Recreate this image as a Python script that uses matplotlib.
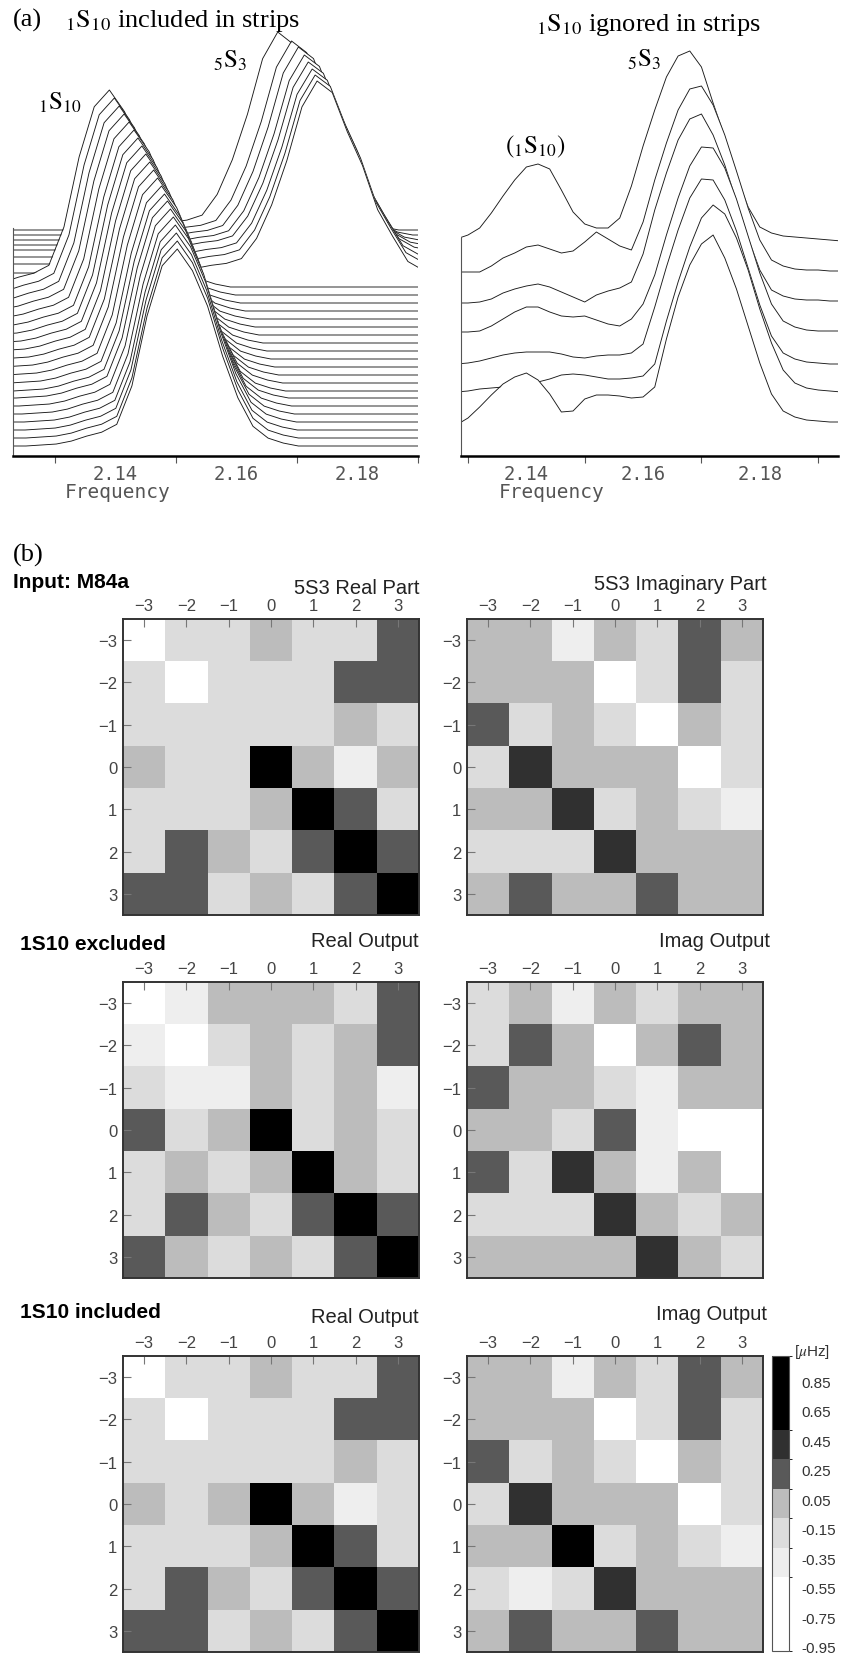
import numpy as np
import matplotlib
matplotlib.use("Agg")
import matplotlib.pyplot as plt
from matplotlib.colors import ListedColormap, BoundaryNorm

plt.rcParams["mathtext.fontset"] = "stix"
plt.rcParams["font.family"] = ["Liberation Sans", "DejaVu Sans"]

W, H = 841, 1656

# ---------------- (a) strip spectra ----------------
xtick_major = [2.14, 2.16, 2.18]
xtick_minor = [2.13, 2.15, 2.17, 2.19]

# mode line shapes: offset from peak (mHz) and normalised height
prof_df = [-0.025, -0.0225, -0.02, -0.0175, -0.015, -0.0125, -0.01, -0.0075, -0.005, -0.0025,
           0.0, 0.0025, 0.005, 0.0075, 0.01, 0.0125, 0.015, 0.0175, 0.02, 0.025]
prof_1s10 = [0, 0.005, 0.01, 0.025, 0.05, 0.07, 0.11, 0.305, 0.66, 0.915,
             1.0, 0.89, 0.71, 0.455, 0.245, 0.10, 0.04, 0.015, 0, 0]
prof_5s3 = [0, 0.015, 0.025, 0.04, 0.05, 0.075, 0.18, 0.355, 0.585, 0.865,
            1.0, 0.94, 0.735, 0.56, 0.33, 0.19, 0.06, 0.015, 0, 0]

# left panel (1S10 included): 1S10 strips, front strip first
inc_1s10_peak = [2.15024, 2.15024, 2.15008, 2.14992, 2.14959, 2.14911, 2.14862, 2.14813,
                 2.14764, 2.14699, 2.14634, 2.14569, 2.14504, 2.14439, 2.14374, 2.14309,
                 2.14228, 2.14146, 2.14065, 2.13984, 2.13902]
inc_1s10_base = [0.10, 0.18, 0.26, 0.34, 0.42, 0.50, 0.58, 0.65, 0.73, 0.81, 0.89,
                 0.97, 1.05, 1.13, 1.21, 1.29, 1.37, 1.45, 1.53, 1.61, 1.69]
inc_1s10_height = 1.97
# 5S3 strips, back strip first
inc_5s3_peak = [2.16683, 2.16911, 2.17024, 2.17122, 2.17187, 2.17252, 2.17301, 2.17333]
inc_5s3_base = [2.26, 2.21, 2.16, 2.11, 2.06, 1.99, 1.92, 1.83]
inc_5s3_height = [1.98, 1.94, 1.93, 1.90, 1.88, 1.88, 1.89, 1.92]

# right panel (1S10 ignored), front strip first
ign_freq = [2.128, 2.130, 2.132, 2.134, 2.136, 2.138, 2.140, 2.142, 2.144, 2.146, 2.148, 2.150,
            2.152, 2.154, 2.156, 2.158, 2.160, 2.162, 2.164, 2.166, 2.168, 2.170, 2.172, 2.174,
            2.176, 2.178, 2.180, 2.182, 2.184, 2.186, 2.188, 2.190, 2.192, 2.194]
ign_strips = [
    [0.31, 0.38, 0.49, 0.61, 0.72, 0.79, 0.83, 0.76, 0.62, 0.44, 0.45, 0.57, 0.61, 0.61, 0.60, 0.58, 0.59,
     0.69, 1.17, 1.59, 1.91, 2.12, 2.21, 1.98, 1.67, 1.30, 0.93, 0.62, 0.45, 0.39, 0.36, 0.35, 0.34, 0.34],
    [0.64, 0.65, 0.67, 0.68, 0.69, 0.71, 0.73, 0.74, 0.77, 0.81, 0.82, 0.81, 0.79, 0.77, 0.77, 0.78, 0.80,
     0.92, 1.35, 1.74, 2.09, 2.38, 2.51, 2.42, 2.18, 1.86, 1.47, 1.13, 0.86, 0.73, 0.68, 0.66, 0.65, 0.64],
    [0.92, 0.93, 0.95, 0.98, 1.01, 1.03, 1.04, 1.04, 1.04, 1.02, 0.99, 0.98, 1.00, 1.01, 1.01, 1.03, 1.12,
     1.49, 1.89, 2.26, 2.58, 2.77, 2.76, 2.56, 2.25, 1.88, 1.51, 1.20, 1.03, 0.97, 0.94, 0.93, 0.92, 0.92],
    [1.24, 1.24, 1.25, 1.30, 1.37, 1.44, 1.49, 1.49, 1.44, 1.40, 1.39, 1.40, 1.36, 1.32, 1.30, 1.37, 1.52,
     1.81, 2.21, 2.58, 2.90, 3.09, 3.08, 2.88, 2.57, 2.20, 1.83, 1.52, 1.35, 1.29, 1.26, 1.25, 1.25, 1.25],
    [1.53, 1.53, 1.54, 1.57, 1.63, 1.67, 1.70, 1.72, 1.69, 1.64, 1.59, 1.54, 1.61, 1.65, 1.68, 1.74, 2.02,
     2.46, 2.83, 3.16, 3.37, 3.42, 3.21, 2.91, 2.55, 2.18, 1.86, 1.66, 1.60, 1.57, 1.56, 1.56, 1.55, 1.55],
    [1.84, 1.84, 1.84, 1.90, 1.98, 2.03, 2.09, 2.11, 2.07, 2.03, 2.05, 2.14, 2.24, 2.17, 2.10, 2.06, 2.34,
     2.76, 3.13, 3.46, 3.67, 3.70, 3.51, 3.21, 2.85, 2.48, 2.16, 1.96, 1.90, 1.87, 1.86, 1.86, 1.85, 1.85],
    [2.17, 2.21, 2.28, 2.43, 2.60, 2.76, 2.89, 2.92, 2.87, 2.66, 2.44, 2.32, 2.28, 2.28, 2.38, 2.70, 3.10,
     3.46, 3.79, 4.00, 4.05, 3.89, 3.53, 3.19, 2.80, 2.49, 2.29, 2.23, 2.20, 2.19, 2.18, 2.17, 2.16, 2.15],
]

# ---------------- (b) splitting matrices ----------------
orders = [-3, -2, -1, 0, 1, 2, 3]
m_in_re = [[-0.70, -0.18, -0.18, 0.02, -0.18, -0.18, 0.22],
           [-0.18, -0.70, -0.18, -0.18, -0.18, 0.22, 0.22],
           [-0.18, -0.18, -0.18, -0.18, -0.18, 0.02, -0.18],
           [0.02, -0.18, -0.18, 0.80, 0.02, -0.38, 0.02],
           [-0.18, -0.18, -0.18, 0.02, 0.80, 0.22, -0.18],
           [-0.18, 0.22, 0.02, -0.18, 0.22, 0.80, 0.22],
           [0.22, 0.22, -0.18, 0.02, -0.18, 0.22, 0.80]]
m_in_im = [[0.02, 0.02, -0.38, 0.02, -0.18, 0.22, 0.02],
           [0.02, 0.02, 0.02, -0.70, -0.18, 0.22, -0.18],
           [0.22, -0.18, 0.02, -0.18, -0.70, 0.02, -0.18],
           [-0.18, 0.42, 0.02, 0.02, 0.02, -0.70, -0.18],
           [0.02, 0.02, 0.42, -0.18, 0.02, -0.18, -0.38],
           [-0.18, -0.18, -0.18, 0.42, 0.02, 0.02, 0.02],
           [0.02, 0.22, 0.02, 0.02, 0.22, 0.02, 0.02]]
m_ex_re = [[-0.70, -0.38, 0.02, 0.02, 0.02, -0.18, 0.22],
           [-0.38, -0.70, -0.18, 0.02, -0.18, 0.02, 0.22],
           [-0.18, -0.38, -0.38, 0.02, -0.18, 0.02, -0.38],
           [0.22, -0.18, 0.02, 0.80, -0.18, 0.02, -0.18],
           [-0.18, 0.02, -0.18, 0.02, 0.80, 0.02, -0.18],
           [-0.18, 0.22, 0.02, -0.18, 0.22, 0.80, 0.22],
           [0.22, 0.02, -0.18, 0.02, -0.18, 0.22, 0.80]]
m_ex_im = [[-0.18, 0.02, -0.38, 0.02, -0.18, 0.02, 0.02],
           [-0.18, 0.22, 0.02, -0.70, 0.02, 0.22, 0.02],
           [0.22, 0.02, 0.02, -0.18, -0.38, 0.02, 0.02],
           [0.02, 0.02, -0.18, 0.22, -0.38, -0.70, -0.70],
           [0.22, -0.18, 0.42, 0.02, -0.38, 0.02, -0.70],
           [-0.18, -0.18, -0.18, 0.42, 0.02, -0.18, 0.02],
           [0.02, 0.02, 0.02, 0.02, 0.42, 0.02, -0.18]]
m_ic_re = [[-0.70, -0.18, -0.18, 0.02, -0.18, -0.18, 0.22],
           [-0.18, -0.70, -0.18, -0.18, -0.18, 0.22, 0.22],
           [-0.18, -0.18, -0.18, -0.18, -0.18, 0.02, -0.18],
           [0.02, -0.18, 0.02, 0.80, 0.02, -0.38, -0.18],
           [-0.18, -0.18, -0.18, 0.02, 0.80, 0.22, -0.18],
           [-0.18, 0.22, 0.02, -0.18, 0.22, 0.80, 0.22],
           [0.22, 0.22, -0.18, 0.02, -0.18, 0.22, 0.80]]
m_ic_im = [[0.02, 0.02, -0.38, 0.02, -0.18, 0.22, 0.02],
           [0.02, 0.02, 0.02, -0.70, -0.18, 0.22, -0.18],
           [0.22, -0.18, 0.02, -0.18, -0.70, 0.02, -0.18],
           [-0.18, 0.42, 0.02, 0.02, 0.02, -0.70, -0.18],
           [0.02, 0.02, 0.80, -0.18, 0.02, -0.18, -0.38],
           [-0.18, -0.38, -0.18, 0.42, 0.02, 0.02, 0.02],
           [0.02, 0.22, 0.02, 0.02, 0.22, 0.02, 0.02]]

level_bounds = [-0.98, -0.48, -0.28, -0.08, 0.12, 0.32, 0.52, 1.02]
level_colors = ["#ffffff", "#eeeeee", "#dcdcdc", "#bcbcbc", "#595959", "#303030", "#000000"]
cbar_ticks = [-0.95, -0.75, -0.55, -0.35, -0.15, 0.05, 0.25, 0.45, 0.65, 0.85]
cbar_labels = ["-0.95", "-0.75", "-0.55", "-0.35", "-0.15", "0.05", "0.25", "0.45", "0.65", "0.85"]


def px_rect(x0, y0, x1, y1):
    return [x0 / W, 1 - y1 / H, (x1 - x0) / W, (y1 - y0) / H]


def fx(x):
    return x / W


def fy(y):
    return 1 - y / H


fig = plt.figure(figsize=(W / 100, H / 100), dpi=100)


def draw_strips(ax, curves):
    # back to front, each strip hides what lies behind it
    for i, (f, a) in enumerate(curves):
        z = 1 + 0.01 * i
        ax.fill_between(f, a, 0, color="white", lw=0, zorder=z)
        ax.plot(f, a, color="#1a1a1a", lw=0.65, zorder=z + 0.005)


def freq_axis(ax, xlim, spine_top):
    ax.set_xlim(*xlim)
    ax.set_ylim(0, 4.37)
    ax.patch.set_alpha(0)
    for s in ("top", "right"):
        ax.spines[s].set_visible(False)
    ax.spines["left"].set_bounds(0, spine_top)
    ax.spines["left"].set_color("#555555")
    ax.spines["left"].set_linewidth(0.8)
    ax.spines["bottom"].set_linewidth(1.8)
    ax.set_yticks([])
    ax.set_xticks(xtick_major)
    ax.set_xticklabels([f"{v:.2f}" for v in xtick_major], family="DejaVu Sans Mono",
                       fontsize=13.5, color="#555555")
    ax.set_xticks(xtick_minor, minor=True)
    ax.tick_params(axis="x", which="major", length=0, pad=6)
    ax.tick_params(axis="x", which="minor", length=5, width=0.8, color="#555555", direction="out")


# left strips
ax1 = fig.add_axes(px_rect(13, 20, 418, 457))
curves = []
for p, b, a in zip(inc_5s3_peak, inc_5s3_base, inc_5s3_height):
    f = [2.10] + [p + d for d in prof_df] + [2.21]
    h = [b] + [b + a * v for v in prof_5s3] + [b]
    curves.append((f, h))
for p, b in reversed(list(zip(inc_1s10_peak, inc_1s10_base))):
    f = [2.10] + [p + d for d in prof_df] + [2.21]
    h = [b] + [b + inc_1s10_height * v for v in prof_1s10] + [b]
    curves.append((f, h))
draw_strips(ax1, curves)
freq_axis(ax1, (2.1231, 2.1889), 2.28)

# right strips
ax2 = fig.add_axes(px_rect(461, 20, 838, 457))
draw_strips(ax2, [(ign_freq, s) for s in reversed(ign_strips)])
freq_axis(ax2, (2.1288, 2.1934), 2.18)

serif = "Liberation Serif"
fig.text(fx(13), fy(27), "(a)", family=serif, fontsize=19, va="baseline")
fig.text(fx(65), fy(27), r"${}_{1}\mathrm{S}_{10}$ included in strips", family=serif, fontsize=19, va="baseline")
fig.text(fx(648), fy(31), r"${}_{1}\mathrm{S}_{10}$ ignored in strips", family=serif, fontsize=19,
         ha="center", va="baseline")
fig.text(fx(38), fy(110), r"${}_{1}\mathrm{S}_{10}$", fontsize=18, va="baseline")
fig.text(fx(213), fy(68), r"${}_{5}\mathrm{S}_{3}$", fontsize=18, va="baseline")
fig.text(fx(505), fy(153), r"$({}_{1}\mathrm{S}_{10})$", fontsize=18, va="baseline")
fig.text(fx(627), fy(67), r"${}_{5}\mathrm{S}_{3}$", fontsize=18, va="baseline")
for xc in (118, 552):
    fig.text(fx(xc), fy(493), "Frequency", family="DejaVu Sans Mono", fontsize=14,
             color="#555555", ha="center", va="center")

# ---------------- (b) matrices ----------------
cmap = ListedColormap(level_colors)
norm = BoundaryNorm(level_bounds, cmap.N)


def matrix_panel(rect, data):
    ax = fig.add_axes(rect)
    im = ax.imshow(np.array(data), cmap=cmap, norm=norm, extent=(-3.5, 3.5, 3.5, -3.5),
                   interpolation="nearest", aspect="auto")
    ax.set_xticks(orders)
    ax.set_yticks(orders)
    ax.xaxis.tick_top()
    ax.tick_params(direction="in", length=6, width=0.8, color="#777777", labelsize=12,
                   labelcolor="#444444", pad=4, top=True, bottom=False, left=True, right=False)
    for s in ax.spines.values():
        s.set_linewidth(1.4)
        s.set_color("#333333")
    return im


rows_y = [(620, 916), (983, 1279), (1357, 1653)]
mats = [(m_in_re, m_in_im), (m_ex_re, m_ex_im), (m_ic_re, m_ic_im)]
for (y0, y1), (re, im_) in zip(rows_y, mats):
    matrix_panel(px_rect(123, y0, 419, y1), re)
    last = matrix_panel(px_rect(467, y0, 763, y1), im_)

fig.text(fx(13), fy(562), "(b)", family=serif, fontsize=19, va="baseline")
bold = dict(fontsize=15, fontweight="bold", va="center")
fig.text(fx(13), fy(583), "Input: M84a", **bold)
fig.text(fx(20), fy(945), "1S10 excluded", **bold)
fig.text(fx(20), fy(1313), "1S10 included", **bold)
sub = dict(fontsize=14.5, ha="right", va="center", color="#222222")
fig.text(fx(419), fy(588), "5S3 Real Part", **sub)
fig.text(fx(767), fy(585), "5S3 Imaginary Part", **sub)
fig.text(fx(419), fy(942), "Real Output", **sub)
fig.text(fx(770), fy(942), "Imag Output", **sub)
fig.text(fx(419), fy(1318), "Real Output", **sub)
fig.text(fx(767), fy(1315), "Imag Output", **sub)

cax = fig.add_axes(px_rect(772, 1357, 789, 1652))
cb = fig.colorbar(last, cax=cax, spacing="proportional", ticks=cbar_ticks)
cb.ax.set_yticklabels(cbar_labels)
cb.ax.tick_params(length=0, pad=9, labelsize=11, labelcolor="#333333")
cb.outline.set_linewidth(0.8)
cb.outline.set_edgecolor("#555555")
fig.text(fx(794), fy(1352), r"[$\mu$Hz]", fontsize=11, va="center", color="#333333")

fig.savefig("out.png", dpi=100)
